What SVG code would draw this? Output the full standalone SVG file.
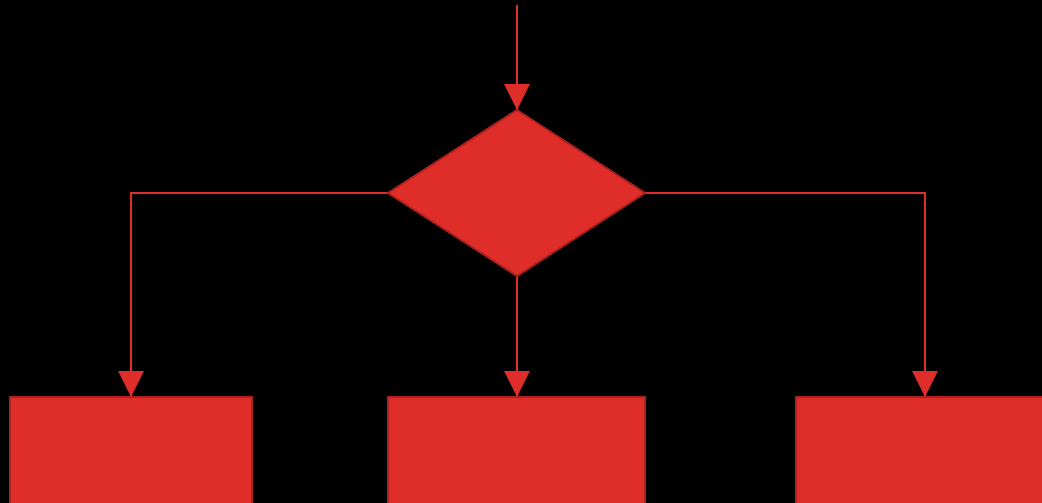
<svg xmlns="http://www.w3.org/2000/svg" width="1042" height="503" viewBox="0 0 1042 503">
<style>
.node{fill:#df2e29;stroke:#b0201c;stroke-width:2}
.edge{fill:none;stroke:#df2e29;stroke-width:2}
</style>
<defs>
<marker id="arr" markerUnits="userSpaceOnUse" markerWidth="26" markerHeight="26" viewBox="0 0 26 26" refX="26" refY="13" orient="auto">
<path d="M0,0 L26,13 L0,26 Z" fill="#df2e29"/>
</marker>
</defs>
<rect width="1042" height="503" fill="#000"/>
<g id="connectors">
<line class="edge" x1="517" y1="5" x2="517" y2="110" marker-end="url(#arr)"/>
<path class="edge" d="M388,193 H131 V397" marker-end="url(#arr)"/>
<line class="edge" x1="517" y1="276" x2="517" y2="397" marker-end="url(#arr)"/>
<path class="edge" d="M645,193 H925 V397" marker-end="url(#arr)"/>
</g>
<g id="decision">
<polygon class="node" points="517,110 645,193 517,276 388,193"/>
</g>
<g id="box-left">
<rect class="node" x="10" y="397" width="242" height="110"/>
</g>
<g id="box-middle">
<rect class="node" x="388" y="397" width="257" height="110"/>
</g>
<g id="box-right">
<rect class="node" x="796" y="397" width="250" height="110"/>
</g>
</svg>
